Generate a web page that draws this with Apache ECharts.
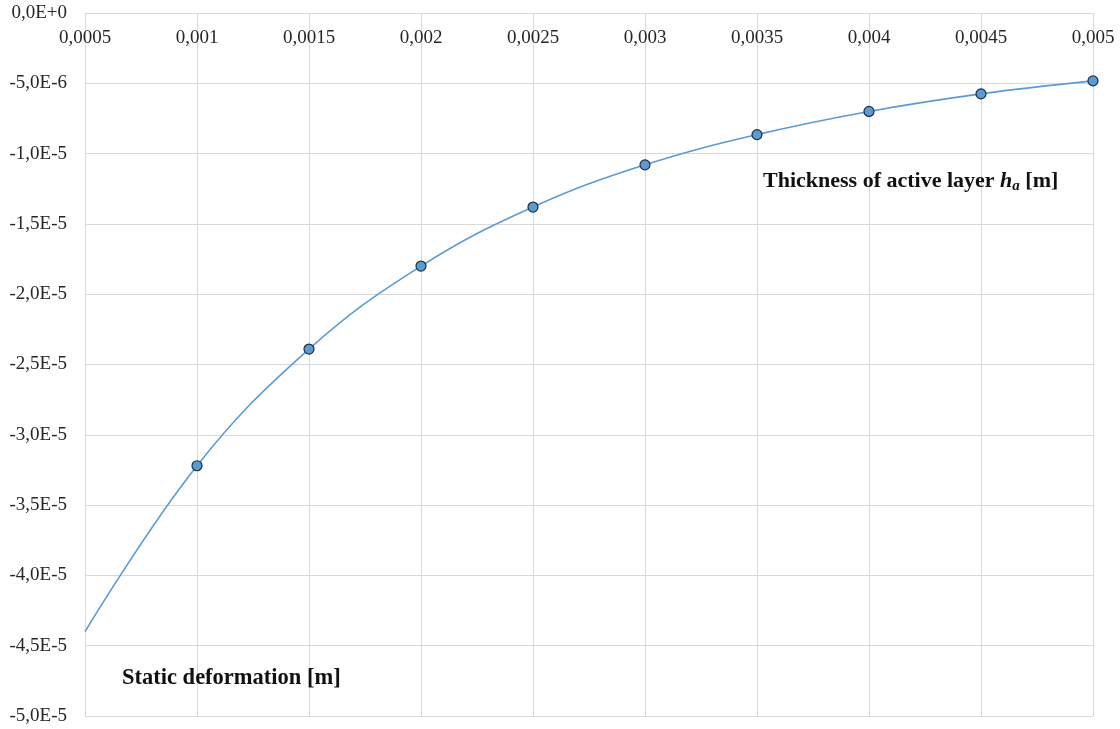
<!DOCTYPE html>
<html>
<head>
<meta charset="utf-8">
<script src="https://cdn.jsdelivr.net/npm/echarts@6/dist/echarts.min.js"></script>
<style>html,body{margin:0;padding:0;background:#fff;}#c{width:1120px;height:729px;}</style>
</head>
<body>
<div id="c"></div>
<script>
var thickness = [0.0005, 0.001, 0.0015, 0.002, 0.0025, 0.003, 0.0035, 0.004, 0.0045, 0.005];
var deformation = [-4.40e-5, -3.22e-5, -2.39e-5, -1.80e-5, -1.38e-5, -1.08e-5, -8.65e-6, -7.0e-6, -5.75e-6, -4.83e-6];
var xTitle = 'Thickness of active layer ';
var yTitle = 'Static deformation [m]';

function fmtY(v) {
  if (Math.abs(v) < 1e-12) return '0,0E+0';
  var e = Math.floor(Math.log10(Math.abs(v)) + 1e-9);
  var m = v / Math.pow(10, e);
  return m.toFixed(1).replace('.', ',') + 'E' + (e >= 0 ? '+' + e : e);
}
function fmtX(v) {
  return parseFloat(v.toFixed(5)).toString().replace('.', ',');
}

var data = thickness.map(function (x, i) {
  var item = { value: [x, deformation[i]] };
  if (i === 0) item.symbol = 'none';
  return item;
});

var chart = echarts.init(document.getElementById('c'));
var font = 'Liberation Serif, Times New Roman, serif';
chart.setOption({
  backgroundColor: '#fff',
  animation: false,
  grid: { left: 85, right: 27, top: 13, bottom: 13 },
  xAxis: {
    type: 'value', position: 'top',
    min: 0.0005, max: 0.005, interval: 0.0005,
    axisLine: { show: true, lineStyle: { color: '#d9d9d9', width: 1 } },
    axisTick: { show: false },
    splitLine: { show: true, lineStyle: { color: '#d9d9d9', width: 1 } },
    axisLabel: { inside: true, margin: 16, color: '#262626', fontSize: 19, fontFamily: font, formatter: fmtX, showMinLabel: true, showMaxLabel: true }
  },
  yAxis: {
    type: 'value',
    min: -5e-5, max: 0, interval: 5e-6,
    axisLine: { show: false },
    axisTick: { show: false },
    splitLine: { show: true, lineStyle: { color: '#d9d9d9', width: 1 } },
    axisLabel: { margin: 18, color: '#262626', fontSize: 19, fontFamily: font, formatter: fmtY }
  },
  series: [{
    type: 'line',
    data: data,
    smooth: 0.4,
    symbol: 'circle',
    symbolSize: 10,
    lineStyle: { color: '#5b9bd5', width: 1.6 },
    itemStyle: { color: '#5b9bd5', borderColor: '#1f2d3d', borderWidth: 1.2 }
  }],
  graphic: [
    {
      type: 'text', left: 763, top: 170, z: 100,
      style: {
        text: '{b|' + xTitle + '}{i|h}{s|a}{b| [m]}',
        rich: {
          b: { fontFamily: font, fontWeight: 'bold', fontSize: 22, fill: '#111' },
          i: { fontFamily: font, fontWeight: 'bold', fontStyle: 'italic', fontSize: 22, fill: '#111' },
          s: { fontFamily: font, fontWeight: 'bold', fontStyle: 'italic', fontSize: 15, fill: '#111', padding: [11, 0, 0, 0] }
        }
      }
    },
    {
      type: 'text', left: 122, top: 667, z: 100,
      style: { text: yTitle, fontFamily: font, fontWeight: 'bold', fontSize: 22.5, fill: '#111' }
    }
  ]
});
</script>
</body>
</html>
